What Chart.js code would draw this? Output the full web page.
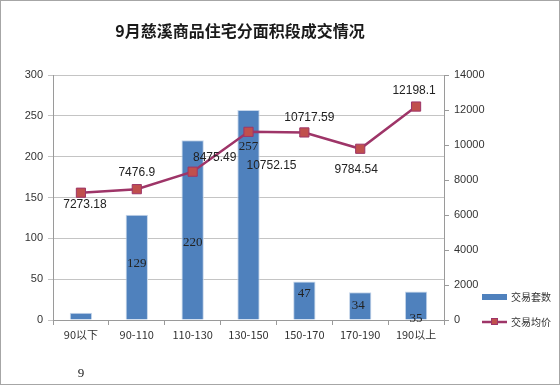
<!DOCTYPE html>
<html>
<head>
<meta charset="utf-8">
<script src="https://cdn.jsdelivr.net/npm/chart.js@4.4.0/dist/chart.umd.min.js"></script>
<style>
  html, body { margin: 0; padding: 0; background: #fff; }
  #wrap { width: 560px; height: 385px; }
</style>
</head>
<body>
<div id="wrap"><canvas id="c" width="560" height="385"></canvas></div>
<script>
const categories = ['90以下', '90-110', '110-130', '130-150', '150-170', '170-190', '190以上'];
const taoshu = [9, 129, 220, 257, 47, 34, 35];
const junjia = [7273.18, 7476.9, 8475.49, 10752.15, 10717.59, 9784.54, 12198.1];
const leftTicks = [0, 50, 100, 150, 200, 250, 300];
const rightTicks = [0, 2000, 4000, 6000, 8000, 10000, 12000, 14000];

// where Excel left each data label, relative to its mark (px)
const barLabelShift = [[0, 61], [0, 49], [0, 102], [0, 36], [0, 12], [-2, 13], [0, 27]];
const lineLabelShift = [[4, 12], [0, -16], [22, -14], [23, 34], [5, -15], [-4, 21], [-2, -16]];

const BLUE = '#4F81BD';
const LINE = '#9E3568';
const MARK = '#C0504D';
const sans = '"Liberation Sans", Arial, sans-serif';
const serif = '"Liberation Serif", "Times New Roman", serif';
const cjk = '"Noto Sans CJK SC", sans-serif';

const extras = {
  id: 'extras',
  afterDraw(chart) {
    const ctx = chart.ctx;
    const area = chart.chartArea;
    ctx.save();
    // frame
    ctx.strokeStyle = '#a6a6a6';
    ctx.lineWidth = 1;
    ctx.strokeRect(0.5, 0.5, chart.width - 1, chart.height - 1);

    // title
    ctx.fillStyle = '#1a1a1a';
    ctx.font = 'bold 16px ' + cjk;
    ctx.textAlign = 'center';
    ctx.textBaseline = 'middle';
    ctx.fillText('9月慈溪商品住宅分面积段成交情况', 240, 31);

    // bar labels
    const barMeta = chart.getDatasetMeta(1);
    ctx.font = '13px ' + serif;
    ctx.fillStyle = '#222';
    barMeta.data.forEach((el, i) => {
      const s = barLabelShift[i];
      ctx.fillText(String(taoshu[i]), el.x + s[0], el.y + s[1]);
    });

    // line labels
    const lineMeta = chart.getDatasetMeta(0);
    ctx.font = '12px ' + sans;
    lineMeta.data.forEach((el, i) => {
      const s = lineLabelShift[i];
      ctx.fillText(String(junjia[i]), el.x + s[0], el.y + s[1]);
    });

    // legend
    const lx = area.right + 38;
    ctx.fillStyle = BLUE;
    ctx.fillRect(lx, 294, 25, 6);
    ctx.strokeStyle = LINE;
    ctx.lineWidth = 2.5;
    ctx.beginPath();
    ctx.moveTo(lx, 322);
    ctx.lineTo(lx + 25, 322);
    ctx.stroke();
    ctx.fillStyle = MARK;
    ctx.fillRect(lx + 9, 318, 7, 7);
    ctx.strokeStyle = LINE;
    ctx.lineWidth = 1;
    ctx.strokeRect(lx + 9.5, 318.5, 6, 6);
    ctx.fillStyle = '#333';
    ctx.font = '10px ' + cjk;
    ctx.textAlign = 'left';
    ctx.fillText('交易套数', lx + 29, 297);
    ctx.fillText('交易均价', lx + 29, 322);
    ctx.restore();
  }
};

new Chart(document.getElementById('c'), {
  data: {
    labels: categories,
    datasets: [
      {
        type: 'line',
        label: '交易均价',
        data: junjia,
        yAxisID: 'y1',
        borderColor: LINE,
        borderWidth: 2.5,
        pointStyle: 'rect',
        pointRadius: 6.5,
        pointBackgroundColor: MARK,
        pointBorderColor: LINE,
        pointBorderWidth: 1,
        tension: 0,
        order: 0
      },
      {
        type: 'bar',
        label: '交易套数',
        data: taoshu,
        yAxisID: 'y',
        backgroundColor: BLUE,
        borderColor: '#c6d6ea',
        borderWidth: 1,
        barPercentage: 0.4,
        categoryPercentage: 1,
        order: 1
      }
    ]
  },
  options: {
    responsive: false,
    animation: false,
    layout: { padding: { top: 75, left: 0, right: 64, bottom: 0 } },
    plugins: {
      legend: { display: false },
      title: { display: false },
      tooltip: { enabled: false }
    },
    scales: {
      x: {
        offset: true,
        grid: { offset: true, drawOnChartArea: false, color: '#9a9a9a', tickLength: 5 },
        border: { color: '#9a9a9a' },
        ticks: { color: '#333', font: { family: cjk, size: 11 }, padding: 3, maxRotation: 0 },
        afterFit(s) { s.height = 65; }
      },
      y: {
        position: 'left',
        min: 0,
        max: 300,
        afterBuildTicks(s) { s.ticks = leftTicks.map(v => ({ value: v })); },
        grid: { color: '#c4c4c4', tickLength: 5 },
        border: { color: '#9a9a9a' },
        ticks: { color: '#333', font: { family: sans, size: 11 }, padding: 5 },
        afterFit(s) { s.width = 53; }
      },
      y1: {
        position: 'right',
        min: 0,
        max: 14000,
        afterBuildTicks(s) { s.ticks = rightTicks.map(v => ({ value: v })); },
        grid: { drawOnChartArea: false, color: '#9a9a9a', tickLength: 5 },
        border: { color: '#9a9a9a' },
        ticks: { color: '#333', font: { family: sans, size: 11 }, padding: 5, callback: v => String(v) },
        afterFit(s) { s.width = 52; }
      }
    }
  },
  plugins: [extras]
});
</script>
</body>
</html>
